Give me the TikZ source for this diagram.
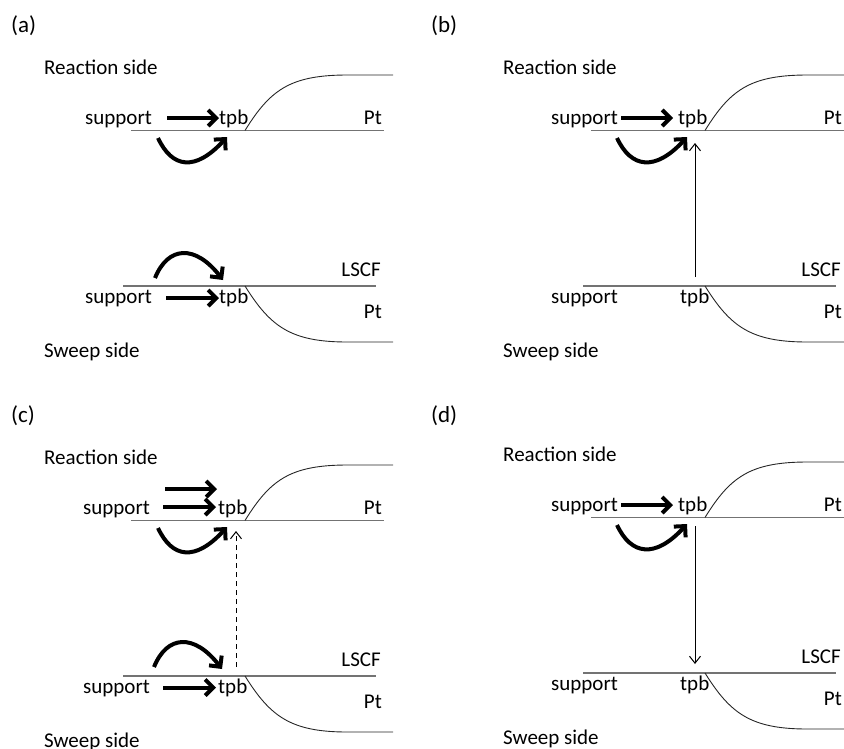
\documentclass[tikz,border=0pt]{standalone}
\usepackage{fontspec}
\setmainfont{Carlito}
\usetikzlibrary{arrows.meta}
\begin{document}
\begin{tikzpicture}[x=1pt,y=-1pt,
  txt/.style={inner sep=0pt, anchor=base west, font=\fontsize{21}{25}\selectfont},
  txtr/.style={inner sep=0pt, anchor=base east, font=\fontsize{21}{25}\selectfont},
  plabel/.style={inner sep=0pt, anchor=base west, font=\fontsize{23}{27}\selectfont},
  hline/.style={line width=1.3pt, black!55},
  sig/.style={line width=0.9pt, black!85},
  bigarrow/.style={line width=4pt, -{Straight Barb[length=8pt,width=16pt]}},
  thinarrow/.style={line width=1pt, -{Straight Barb[length=7pt,width=11pt]}},
  dasharrow/.style={line width=1pt, dash pattern=on 5pt off 4pt, -{Straight Barb[length=7pt,width=11pt]}}
]
\useasboundingbox (0,0) rectangle (844,748);

% ---------------- panel (a)
\node[plabel] (la) at (11,32) {(a)};
\node[txt] (ra) at (44,74) {Reaction side};
\node[txt] (sa1) at (85,124) {support};
\node[txt] (ta1) at (219,124) {tpb};
\node[txtr] (pa1) at (382,124) {Pt};
\draw[hline] (131,130.5) -- (384,130.5);
\draw[sig] (245,130.5) .. controls (270,90) and (290,75.5) .. (345,75) -- (393,75);
\coordinate (a1s) at (167,118); \coordinate (a1e) at (219,118);
\draw[bigarrow] (a1s) -- (a1e);
\coordinate (a2s) at (158,138); \coordinate (a2e) at (227,137);
\draw[bigarrow] (a2s) .. controls (172,168) and (195,172) .. (a2e);
\node[txtr] (lsa) at (381,276) {LSCF};
\draw[hline] (123,286) -- (376,286);
\node[txt] (sa2) at (85,303) {support};
\node[txt] (ta2) at (219,303) {tpb};
\node[txtr] (pa2) at (382,318) {Pt};
\draw[sig] (245,286) .. controls (270,326) and (290,341.5) .. (345,342) -- (393,342);
\coordinate (a3s) at (166,298); \coordinate (a3e) at (219,298);
\draw[bigarrow] (a3s) -- (a3e);
\coordinate (a4s) at (155,278); \coordinate (a4e) at (223,280);
\draw[bigarrow] (a4s) .. controls (168,246) and (195,244) .. (a4e);
\node[txt] (wa) at (44,357) {Sweep side};

% ---------------- panel (b)
\node[plabel] (lb) at (431,32) {(b)};
\node[txt] (rb) at (503,74) {Reaction side};
\node[txt] (sb1) at (551,124) {support};
\node[txt] (tb1) at (678,124) {tpb};
\node[txtr] (pb1) at (842,124) {Pt};
\draw[hline] (591,130.5) -- (844,130.5);
\draw[sig] (705,130.5) .. controls (730,90) and (750,75.5) .. (805,75) -- (844,75);
\coordinate (b1s) at (621,118); \coordinate (b1e) at (673,118);
\draw[bigarrow] (b1s) -- (b1e);
\coordinate (b2s) at (617,138); \coordinate (b2e) at (687,137);
\draw[bigarrow] (b2s) .. controls (631,168) and (655,172) .. (b2e);
\coordinate (b3s) at (695,277); \coordinate (b3e) at (695,143);
\draw[thinarrow] (b3s) -- (b3e);
\node[txtr] (lsb) at (841,276) {LSCF};
\draw[hline] (583,286) -- (836,286);
\node[txt] (sb2) at (551,303) {support};
\node[txt] (tb2) at (680,303) {tpb};
\node[txtr] (pb2) at (842,318) {Pt};
\draw[sig] (705,286) .. controls (730,326) and (750,341.5) .. (805,342) -- (844,342);
\node[txt] (wb) at (503,357) {Sweep side};

% ---------------- panel (c)
\begin{scope}[shift={(0,390)}]
\node[plabel] (lc) at (11,32) {(c)};
\node[txt] (rc) at (44,74) {Reaction side};
\node[txt] (sc1) at (83,124) {support};
\node[txt] (tc1) at (218,124) {tpb};
\node[txtr] (pc1) at (382,124) {Pt};
\draw[hline] (131,130.5) -- (384,130.5);
\draw[sig] (245,130.5) .. controls (270,90) and (290,75.5) .. (345,75) -- (393,75);
\coordinate (c1s) at (165,99); \coordinate (c1e) at (217,99);
\draw[bigarrow] (c1s) -- (c1e);
\coordinate (c5s) at (163,117); \coordinate (c5e) at (216,117);
\draw[bigarrow] (c5s) -- (c5e);
\coordinate (c2s) at (158,138); \coordinate (c2e) at (227,137);
\draw[bigarrow] (c2s) .. controls (172,168) and (195,172) .. (c2e);
\coordinate (c6s) at (236,277); \coordinate (c6e) at (236,141);
\draw[dasharrow] (c6s) -- (c6e);
\node[txtr] (lsc) at (381,276) {LSCF};
\draw[hline] (123,286) -- (376,286);
\node[txt] (sc2) at (83,303) {support};
\node[txt] (tc2) at (218,303) {tpb};
\node[txtr] (pc2) at (382,318) {Pt};
\draw[sig] (245,286) .. controls (270,326) and (290,341.5) .. (345,342) -- (393,342);
\coordinate (c3s) at (163,297.5); \coordinate (c3e) at (216,297.5);
\draw[bigarrow] (c3s) -- (c3e);
\coordinate (c4s) at (154,277); \coordinate (c4e) at (222,279);
\draw[bigarrow] (c4s) .. controls (167,245) and (194,243) .. (c4e);
\node[txt] (wc) at (44,357) {Sweep side};
\end{scope}

% ---------------- panel (d)
\begin{scope}[shift={(0,387)}]
\node[plabel] (ld) at (431,35) {(d)};
\node[txt] (rd) at (503,74) {Reaction side};
\node[txt] (sd1) at (551,124) {support};
\node[txt] (td1) at (678,124) {tpb};
\node[txtr] (pd1) at (842,124) {Pt};
\draw[hline] (591,130.5) -- (844,130.5);
\draw[sig] (705,130.5) .. controls (730,90) and (750,75.5) .. (805,75) -- (844,75);
\coordinate (d1s) at (621,118); \coordinate (d1e) at (673,118);
\draw[bigarrow] (d1s) -- (d1e);
\coordinate (d2s) at (617,138); \coordinate (d2e) at (687,137);
\draw[bigarrow] (d2s) .. controls (631,168) and (655,172) .. (d2e);
\coordinate (d3s) at (695,139); \coordinate (d3e) at (695,277);
\draw[thinarrow] (d3s) -- (d3e);
\node[txtr] (lsd) at (841,276) {LSCF};
\draw[hline] (583,286) -- (836,286);
\node[txt] (sd2) at (551,303) {support};
\node[txt] (td2) at (680,303) {tpb};
\node[txtr] (pd2) at (842,318) {Pt};
\draw[sig] (705,286) .. controls (730,326) and (750,341.5) .. (805,342) -- (844,342);
\node[txt] (wd) at (503,357) {Sweep side};
\end{scope}
\end{tikzpicture}
\end{document}
